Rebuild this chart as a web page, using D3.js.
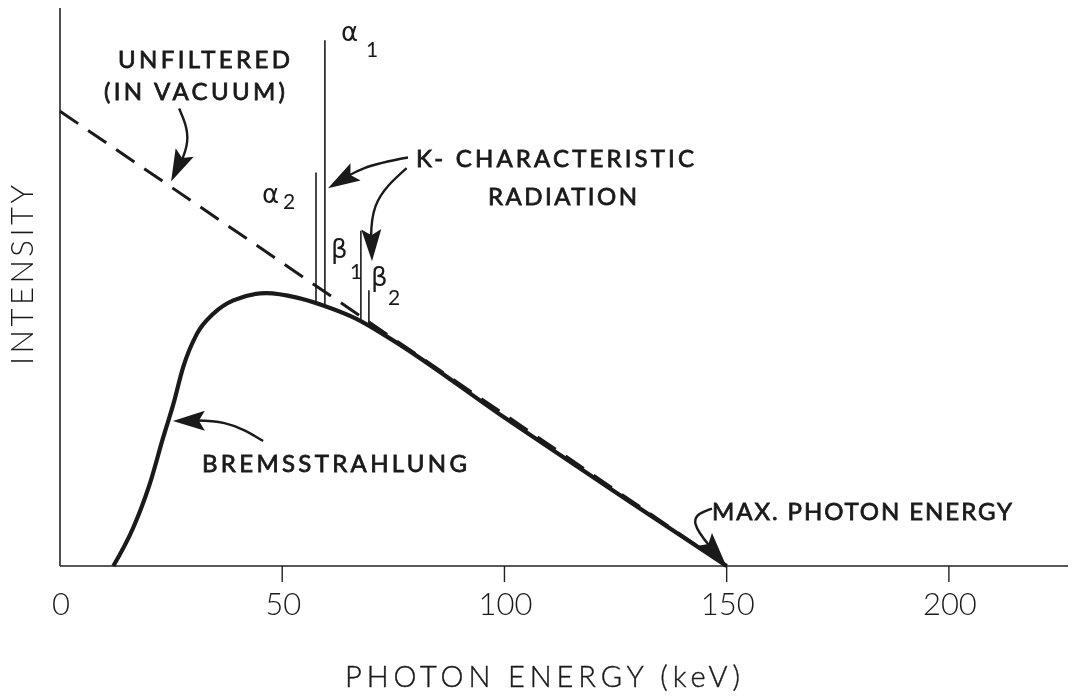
<!DOCTYPE html>
<html>
<head>
<meta charset="UTF-8">
<script src="https://d3js.org/d3.v7.min.js"></script>
<style>
  body { margin: 0; background: #fff; }
  svg { transform: translateZ(0); }
  text { fill: #1a1a1a; }
</style>
</head>
<body>
<svg></svg>
<script>

// ---- data (keV, relative intensity 0-100) ----
var tickValues = [0, 50, 100, 150, 200];
var tickLabels = ["0", "50", "100", "150", "200"];

var bremsEnergy    = [12.0, 16.5, 20.2, 23.2, 25.5, 27.7, 30.8, 34.5, 39.0, 46.5, 53.3, 59.2, 66.7, 74.2, 100, 125, 150];
var bremsIntensity = [0,    6.9,  14.7, 23.0, 29.0, 35.6, 41.6, 45.2, 47.6, 48.9, 48.1, 46.7, 44.3, 40.8, 26.6, 13.2, 0];

var unfilteredEnergy    = [0, 150];
var unfilteredIntensity = [81.5, 0];

var peakNames     = ["α2", "α1", "β1", "β2"];
var peakEnergy    = [57.6, 59.6, 67.7, 69.5];
var peakIntensity = [70.5, 94.2, 60.1, 49.4];

var width = 1073, height = 696;

var svg = d3.select("svg")
    .attr("width", width)
    .attr("height", height);

var x = d3.scaleLinear().domain([0, 226.8]).range([60, 1068]);
var y = d3.scaleLinear().domain([0, 100]).range([566, 8]);

// axes
svg.append("line")
    .attr("x1", x(0)).attr("x2", x(0))
    .attr("y1", y(100)).attr("y2", y(0))
    .attr("stroke", "#222").attr("stroke-width", 1.6);
svg.append("line")
    .attr("x1", x(0)).attr("x2", x(226.8))
    .attr("y1", y(0)).attr("y2", y(0))
    .attr("stroke", "#222").attr("stroke-width", 1.6);

svg.selectAll("line.tick")
    .data(tickValues.slice(1))
    .enter().append("line")
    .attr("class", "tick")
    .attr("x1", d => x(d)).attr("x2", d => x(d))
    .attr("y1", y(0)).attr("y2", y(0) + 16)
    .attr("stroke", "#222").attr("stroke-width", 1.4);

svg.selectAll("text.ticklabel")
    .data(tickValues)
    .enter().append("text")
    .attr("class", "ticklabel")
    .attr("x", d => x(d) + 1)
    .attr("y", 615)
    .attr("text-anchor", "middle")
    .style("font-family", "Lato")
    .style("font-weight", 300)
    .style("font-size", "31px")
    .text((d, i) => tickLabels[i]);

svg.append("text")
    .attr("x", 345).attr("y", 687)
    .attr("textLength", 395).attr("lengthAdjust", "spacing")
    .style("font-family", "Lato").style("font-weight", 300)
    .style("font-size", "29px")
    .style("stroke", "#1a1a1a").style("stroke-width", 0.4)
    .text("PHOTON ENERGY (keV)");

svg.append("text")
    .attr("transform", "translate(33,365) rotate(-90)")
    .attr("textLength", 180).attr("lengthAdjust", "spacing")
    .style("font-family", "Lato").style("font-weight", 300)
    .style("font-size", "31px")
    .text("INTENSITY");

// unfiltered (dashed)
var unfiltered = d3.zip(unfilteredEnergy, unfilteredIntensity);
svg.append("path")
    .datum(unfiltered)
    .attr("d", d3.line().x(d => x(d[0])).y(d => y(d[1])))
    .attr("fill", "none")
    .attr("stroke", "#1a1a1a")
    .attr("stroke-width", 3)
    .attr("stroke-dasharray", "22,12");

// bremsstrahlung
var brems = d3.zip(bremsEnergy, bremsIntensity);
svg.append("path")
    .datum(brems)
    .attr("d", d3.line().x(d => x(d[0])).y(d => y(d[1])).curve(d3.curveMonotoneX))
    .attr("fill", "none")
    .attr("stroke", "#1a1a1a")
    .attr("stroke-width", 4.2)
    .attr("stroke-linejoin", "round");

function bremsAt(e) {
  var i = d3.bisectLeft(bremsEnergy, e);
  var e0 = bremsEnergy[i - 1], e1 = bremsEnergy[i];
  var t = (e - e0) / (e1 - e0);
  return bremsIntensity[i - 1] + t * (bremsIntensity[i] - bremsIntensity[i - 1]);
}

// characteristic lines
svg.selectAll("line.peak")
    .data(peakEnergy)
    .enter().append("line")
    .attr("class", "peak")
    .attr("x1", d => x(d)).attr("x2", d => x(d))
    .attr("y1", d => y(bremsAt(d)))
    .attr("y2", (d, i) => y(peakIntensity[i]))
    .attr("stroke", "#1a1a1a").attr("stroke-width", 1.6);

// peak labels: offsets from the top of each line
var peakLabelOffset = [
  {gx: -54, gy: 30, sx: -33, sy: 36},
  {gx: 16, gy: 1, sx: 41, sy: 17},
  {gx: -30, gy: 27, sx: -11, sy: 48},
  {gx: 2, gy: -4, sx: 19, sy: 15}
];
var peakLabels = svg.selectAll("g.peaklabel")
    .data(peakNames)
    .enter().append("g")
    .attr("class", "peaklabel")
    .attr("transform", (d, i) => "translate(" + x(peakEnergy[i]) + "," + y(peakIntensity[i]) + ")");
peakLabels.append("text")
    .attr("x", (d, i) => peakLabelOffset[i].gx)
    .attr("y", (d, i) => peakLabelOffset[i].gy)
    .style("font-family", "DejaVu Sans")
    .style("font-size", "26px")
    .text(d => d.charAt(0));
peakLabels.append("text")
    .attr("x", (d, i) => peakLabelOffset[i].sx)
    .attr("y", (d, i) => peakLabelOffset[i].sy)
    .style("font-family", "Lato").style("font-weight", 400)
    .style("font-size", "21px")
    .text(d => d.charAt(1));

// annotation arrows, in data units
var arrows = [
  [[26.8, 82.0], [28.6, 76.0], [25.0, 68.9]],
  [[78.3, 73.2], [68.5, 71.3], [60.3, 67.7]],
  [[78.0, 71.3], [71.0, 64.5], [70.2, 54.6]],
  [[45.7, 22.4], [37.0, 25.6], [25.4, 26.0]],
  [[146.7, 10.3], [143.0, 7.5], [149.7, 0.4]]
];
var arrowLine = d3.line().x(d => x(d[0])).y(d => y(d[1])).curve(d3.curveNatural);
var headLen = 32, headHalf = 10;
svg.selectAll("g.arrow")
    .data(arrows)
    .enter().append("g")
    .attr("class", "arrow")
    .each(function(pts) {
      var g = d3.select(this);
      var path = g.append("path")
          .attr("d", arrowLine(pts))
          .attr("fill", "none")
          .attr("stroke", "#1a1a1a")
          .attr("stroke-width", 2.4);
      var node = path.node(), L = node.getTotalLength();
      var tip = node.getPointAtLength(L);
      var back = node.getPointAtLength(Math.max(0, L - headLen));
      var dx = tip.x - back.x, dy = tip.y - back.y, n = Math.hypot(dx, dy);
      var ux = dx / n, uy = dy / n;
      var bx = tip.x - ux * headLen, by = tip.y - uy * headLen;
      var nx = bx + ux * 6, ny = by + uy * 6;
      path.attr("stroke-dasharray", (L - headLen + 8) + "," + L);
      g.append("path")
          .attr("d", "M" + tip.x + "," + tip.y +
                     "L" + (bx - uy * headHalf) + "," + (by + ux * headHalf) +
                     "L" + nx + "," + ny +
                     "L" + (bx + uy * headHalf) + "," + (by - ux * headHalf) + "Z")
          .attr("fill", "#1a1a1a");
    });

// annotation text
var notes = [
  {t: "UNFILTERED",           x: 118, y: 68,  w: 172},
  {t: "(IN VACUUM)",          x: 104, y: 100, w: 181},
  {t: "K- CHARACTERISTIC",    x: 416, y: 167, w: 278},
  {t: "RADIATION",            x: 488, y: 205, w: 149},
  {t: "BREMSSTRAHLUNG",       x: 202, y: 472, w: 265},
  {t: "MAX. PHOTON ENERGY",   x: 712, y: 520, w: 300}
];
svg.selectAll("text.note")
    .data(notes)
    .enter().append("text")
    .attr("class", "note")
    .attr("x", d => d.x).attr("y", d => d.y)
    .attr("textLength", d => d.w).attr("lengthAdjust", "spacing")
    .style("font-family", "Lato")
    .style("font-weight", 400)
    .style("font-size", "24px")
    .style("stroke", "#1a1a1a")
    .style("stroke-width", 0.8)
    .text(d => d.t);

</script>
</body>
</html>
